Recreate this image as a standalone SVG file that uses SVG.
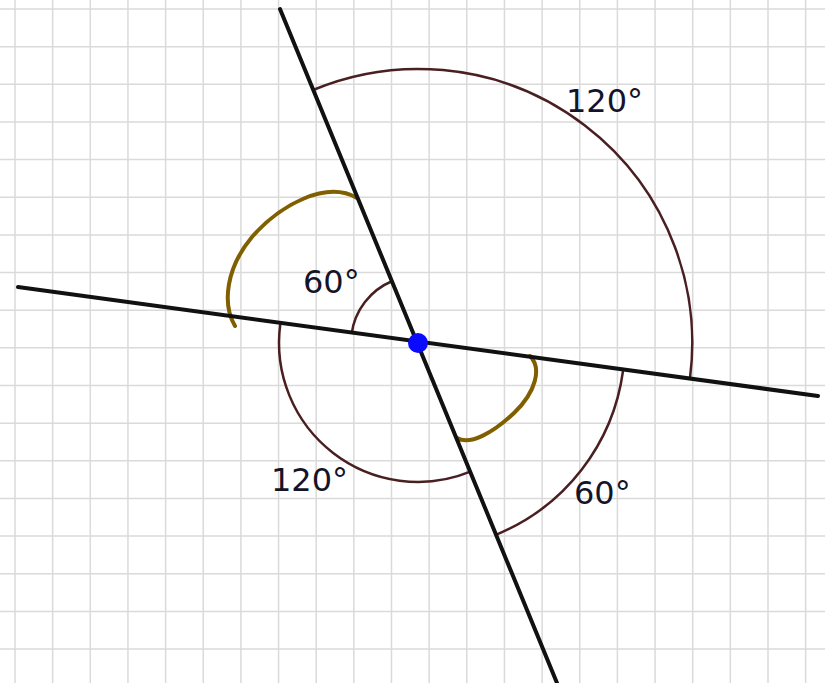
<svg xmlns="http://www.w3.org/2000/svg" width="825" height="683" viewBox="0 0 825 683">
<style>
.grid line{stroke:#dadada;stroke-width:1.5}
.main{stroke:#111111;stroke-width:4;fill:none;stroke-linecap:round}
.arc{stroke:#4a1f22;stroke-width:2.5;fill:none}
.olive{stroke:#7f5f00;stroke-width:4;fill:none;stroke-linecap:round}
.lbl{font-family:"DejaVu Sans",Verdana,sans-serif;font-size:32px;fill:#141428}
</style>
<rect width="825" height="683" fill="#ffffff"/>
<g class="grid" id="grid">
<line x1="15" y1="0" x2="15" y2="683"/>
<line x1="52.65" y1="0" x2="52.65" y2="683"/>
<line x1="90.3" y1="0" x2="90.3" y2="683"/>
<line x1="127.95" y1="0" x2="127.95" y2="683"/>
<line x1="165.6" y1="0" x2="165.6" y2="683"/>
<line x1="203.25" y1="0" x2="203.25" y2="683"/>
<line x1="240.9" y1="0" x2="240.9" y2="683"/>
<line x1="278.55" y1="0" x2="278.55" y2="683"/>
<line x1="316.2" y1="0" x2="316.2" y2="683"/>
<line x1="353.85" y1="0" x2="353.85" y2="683"/>
<line x1="391.5" y1="0" x2="391.5" y2="683"/>
<line x1="429.15" y1="0" x2="429.15" y2="683"/>
<line x1="466.8" y1="0" x2="466.8" y2="683"/>
<line x1="504.45" y1="0" x2="504.45" y2="683"/>
<line x1="542.1" y1="0" x2="542.1" y2="683"/>
<line x1="579.75" y1="0" x2="579.75" y2="683"/>
<line x1="617.4" y1="0" x2="617.4" y2="683"/>
<line x1="655.05" y1="0" x2="655.05" y2="683"/>
<line x1="692.7" y1="0" x2="692.7" y2="683"/>
<line x1="730.35" y1="0" x2="730.35" y2="683"/>
<line x1="768" y1="0" x2="768" y2="683"/>
<line x1="805.65" y1="0" x2="805.65" y2="683"/>
<line x1="0" y1="9" x2="825" y2="9"/>
<line x1="0" y1="46.65" x2="825" y2="46.65"/>
<line x1="0" y1="84.3" x2="825" y2="84.3"/>
<line x1="0" y1="121.95" x2="825" y2="121.95"/>
<line x1="0" y1="159.6" x2="825" y2="159.6"/>
<line x1="0" y1="197.25" x2="825" y2="197.25"/>
<line x1="0" y1="234.9" x2="825" y2="234.9"/>
<line x1="0" y1="272.55" x2="825" y2="272.55"/>
<line x1="0" y1="310.2" x2="825" y2="310.2"/>
<line x1="0" y1="347.85" x2="825" y2="347.85"/>
<line x1="0" y1="385.5" x2="825" y2="385.5"/>
<line x1="0" y1="423.15" x2="825" y2="423.15"/>
<line x1="0" y1="460.8" x2="825" y2="460.8"/>
<line x1="0" y1="498.45" x2="825" y2="498.45"/>
<line x1="0" y1="536.1" x2="825" y2="536.1"/>
<line x1="0" y1="573.75" x2="825" y2="573.75"/>
<line x1="0" y1="611.4" x2="825" y2="611.4"/>
<line x1="0" y1="649.05" x2="825" y2="649.05"/>
</g>
<g id="arcs">
<path class="arc" d="M313,90 A274,274 0 0 1 690,378"/>
<path class="arc" d="M351.6,334 A67,67 0 0 1 392.4,281"/>
<path class="arc" d="M280.3,324.2 A139,139 0 0 0 471,471.4"/>
<path class="arc" d="M623,371 A207,207 0 0 1 497,534.3"/>
<path class="olive" d="M235,326 C222,304 226,268 252,237 C280,205 326,180 357,198"/>
<path class="olive" d="M530,356 C542,368 536,392 514,413 C494,432 470,446 457,438"/>
</g>
<g id="connectors">
<line class="main" x1="18" y1="287" x2="818" y2="396"/>
<line class="main" x1="280" y1="9" x2="557" y2="683"/>
</g>
<g id="center">
<circle cx="418" cy="343" r="10" fill="#0a0aff"/>
</g>
<g id="labels">
<text class="lbl" x="566" y="112">120°</text>
<text class="lbl" x="303" y="293">60°</text>
<text class="lbl" x="271" y="491">120°</text>
<text class="lbl" x="574" y="504">60°</text>
</g>
</svg>
